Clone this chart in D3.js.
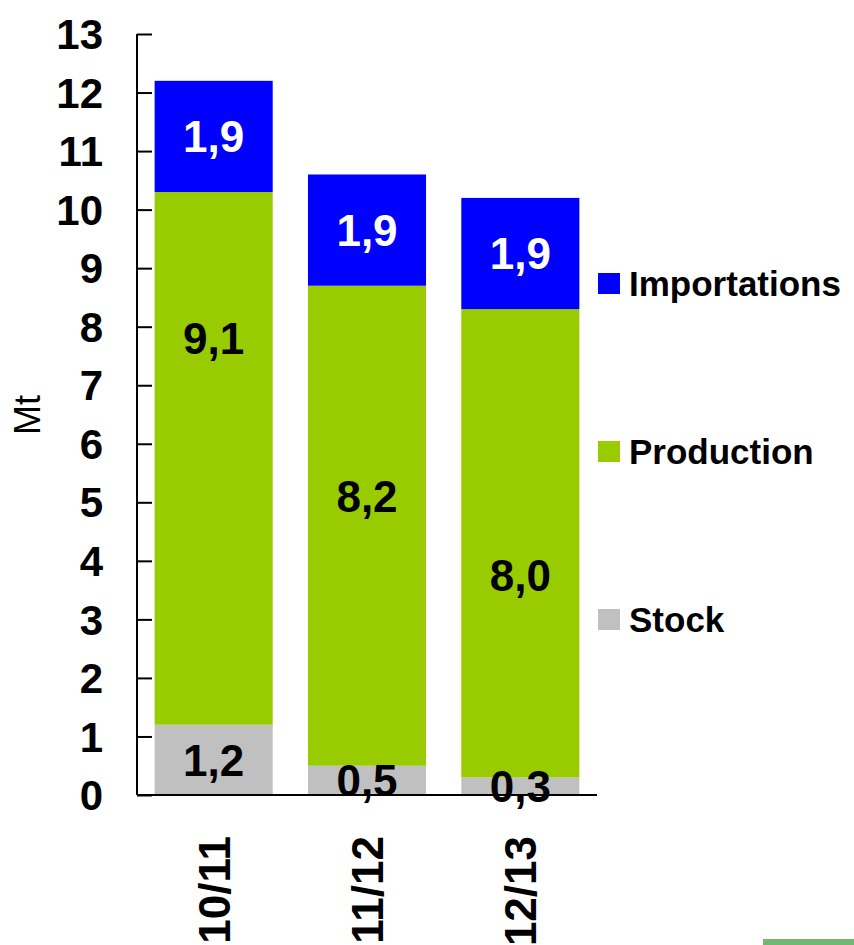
<!DOCTYPE html>
<html>
<head>
<meta charset="utf-8">
<script src="https://cdn.jsdelivr.net/npm/d3@7"></script>
<style>
  html, body { margin: 0; padding: 0; background: #fff; }
  svg { display: block; font-family: "Liberation Sans", Arial, sans-serif; }
</style>
</head>
<body>
<svg id="chart" width="854" height="945"></svg>
<script>
// ---- data ----
const categories = ["10/11", "11/12", "12/13"];
const seriesNames = ["Stock", "Production", "Importations"];
const stockValues = [1.2, 0.5, 0.3];
const productionValues = [9.1, 8.2, 8.0];
const importValues = [1.9, 1.9, 1.9];
const valueLabels = {
  Stock: ["1,2", "0,5", "0,3"],
  Production: ["9,1", "8,2", "8,0"],
  Importations: ["1,9", "1,9", "1,9"]
};
const yTicks = [0,1,2,3,4,5,6,7,8,9,10,11,12,13];
const legendOrder = ["Importations", "Production", "Stock"];
const yTitle = "Mt";

// ---- layout / style ----
const colors = { Stock: "#C0C0C0", Production: "#99CC00", Importations: "#0000FF" };
const labelColors = { Stock: "#000", Production: "#000", Importations: "#fff" };
// manual label anchor (in data units) for the production labels, as in the original
const productionLabelAt = [7.8, 5.1, 3.75];

const svg = d3.select("#chart");
const plotLeft = 137, plotRight = 597, plotTop = 34, plotBottom = 795;

const table = categories.map((c, i) => ({
  cat: c, Stock: stockValues[i], Production: productionValues[i], Importations: importValues[i]
}));
const stacked = d3.stack().keys(seriesNames)(table);

const x = d3.scaleBand().domain(categories).range([plotLeft, plotRight]).paddingInner(0.23).paddingOuter(0.115);
const y = d3.scaleLinear().domain([0, 13]).range([plotBottom, plotTop]);

// bars
const layers = svg.append("g").selectAll("g").data(stacked).join("g")
  .attr("fill", d => colors[d.key]);
layers.selectAll("rect").data(d => d).join("rect")
  .attr("x", d => x(d.data.cat))
  .attr("width", x.bandwidth())
  .attr("y", d => y(d[1]))
  .attr("height", d => y(d[0]) - y(d[1]));

// value labels
stacked.forEach(layer => {
  const key = layer.key;
  svg.append("g").selectAll("text").data(layer).join("text")
    .attr("x", d => x(d.data.cat) + x.bandwidth() / 2)
    .attr("y", (d, i) => key === "Production" ? y(productionLabelAt[i]) : y((d[0] + d[1]) / 2))
    .attr("dy", "0.36em")
    .attr("text-anchor", "middle")
    .attr("font-size", 44)
    .attr("font-weight", "bold")
    .attr("fill", labelColors[key])
    .text((d, i) => valueLabels[key][i]);
});

// y axis
const yAxis = d3.axisRight(y).tickValues(yTicks).tickSize(15).tickFormat("");
const gy = svg.append("g").attr("transform", `translate(${plotLeft},0)`).call(yAxis);
gy.select(".domain").attr("stroke", "#000").attr("stroke-width", 2)
  .attr("d", `M0,${plotTop}V${plotBottom}`);
gy.selectAll(".tick line").attr("stroke", "#000").attr("stroke-width", 2);

svg.append("g").selectAll("text").data(yTicks).join("text")
  .attr("x", 103)
  .attr("y", d => y(d))
  .attr("dy", "0.36em")
  .attr("text-anchor", "end")
  .attr("font-size", 42)
  .attr("font-weight", "bold")
  .attr("fill", "#000")
  .text(d => d);

// x axis line
svg.append("line")
  .attr("x1", plotLeft).attr("x2", plotRight)
  .attr("y1", plotBottom).attr("y2", plotBottom)
  .attr("stroke", "#000").attr("stroke-width", 2);

// x labels (rotated)
svg.append("g").selectAll("text").data(categories).join("text")
  .attr("transform", d => `translate(${x(d) + x.bandwidth() / 2},836) rotate(-90)`)
  .attr("dy", "0.36em")
  .attr("text-anchor", "end")
  .attr("font-size", 44)
  .attr("font-weight", "bold")
  .attr("fill", "#000")
  .text(d => d);

// y title
svg.append("text")
  .attr("transform", "translate(27,415) rotate(-90)")
  .attr("dy", "0.36em")
  .attr("text-anchor", "middle")
  .attr("font-size", 36)
  .attr("fill", "#000")
  .text(yTitle);

// legend
const legY = d3.scalePoint().domain(legendOrder).range([283, 619]);
const leg = svg.append("g").selectAll("g").data(legendOrder).join("g")
  .attr("transform", d => `translate(598,${legY(d)})`);
leg.append("rect").attr("x", 0).attr("y", -10).attr("width", 22).attr("height", 21)
  .attr("fill", d => colors[d]);
leg.append("text").attr("x", 31).attr("y", 0).attr("dy", "0.36em")
  .attr("font-size", 35).attr("font-weight", "bold").attr("fill", "#000")
  .text(d => d);

// small green strip at bottom-right corner of the original picture
svg.append("rect").attr("x", 763).attr("y", 939).attr("width", 91).attr("height", 6)
  .attr("fill", "#72b872");
</script>
</body>
</html>
